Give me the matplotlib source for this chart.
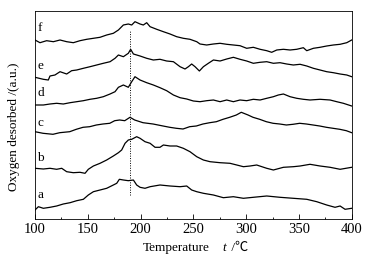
import matplotlib
matplotlib.use("Agg")
import matplotlib.pyplot as plt

# curve data (temperature in C, signal in a.u.)
t_f = [100, 104.7, 111, 117.4, 123.7, 130, 136.3, 142.6, 149, 155.3, 161.6, 167.9, 174.2, 179,
       183.7, 188.4, 191.6, 194.7, 199.5, 202.6, 205.8, 209, 215.3, 221.6, 227.9, 234.2, 240.5,
       246.8, 253.2, 256.3, 262.6, 269, 275.3, 281.6, 287.9, 294.2, 300.5, 306.8, 313.2, 319.5,
       324.2, 329, 335.3, 341.6, 347.9, 354.2, 357.4, 363.7, 370, 376.3, 382.6, 389, 395.3, 400]
y_f = [179, 176.3, 178.3, 177.3, 179, 177.3, 176.3, 178.3, 179.7, 180.7, 181.7, 184, 185.7, 189,
       194, 195, 194, 197.3, 195, 194, 196.3, 192.3, 189.7, 187.3, 185, 182.3, 180.7,
       179.7, 177.3, 175, 174, 175, 175.7, 174.7, 174, 173.3, 170.7, 171.7, 169.7, 168.3,
       166.7, 169, 169.7, 169, 169.7, 171.3, 168.3, 170.7, 171.7, 173, 174, 174.7, 176.3, 179]

t_e = [100, 107.9, 112.6, 114.2, 118.9, 123.7, 130, 134.7, 139.5, 145.8, 152.1, 158.4, 164.7,
       171.1, 175.8, 179, 183.7, 188.4, 190.6, 193.2, 199.5, 205.8, 212.1, 218.4, 224.7, 231.1,
       237.4, 242.1, 245.3, 248.4, 251.6, 255.7, 259.5, 264.2, 269, 275.3, 281.6, 287.9, 294.2,
       300.5, 306.8, 313.2, 319.5, 325.8, 332.1, 338.4, 344.7, 351.1, 357.4, 363.7, 370, 376.3,
       382.6, 389, 395.3, 400]
y_e = [141.7, 139.7, 139, 143, 144, 147.3, 145, 148.3, 149, 150.7, 152.3, 154, 155.7,
       157.3, 160.7, 164, 162.3, 165.7, 169.7, 165, 163, 160.7, 159, 159.7, 158, 157.3,
       152.3, 150, 152.3, 155, 152.3, 148, 152.3, 155.7, 159, 158, 160, 161.7, 159.7,
       158, 155.7, 156.7, 157.3, 155.7, 156.3, 155, 154, 154.7, 153, 150.7, 149, 147.3,
       146.3, 145, 144, 142.3]

t_d = [100, 107.9, 114.2, 120.5, 126.8, 133.2, 139.5, 145.8, 152.1, 158.4, 164.7, 171.1, 175.8,
       179, 183.7, 188.4, 191.6, 194.7, 199.5, 205.8, 212.1, 218.4, 224.7, 231.1, 237.4, 243.7,
       250, 256.3, 262.6, 269, 275.3, 281.6, 287.9, 294.2, 300.5, 306.8, 313.2, 319.5, 325.8,
       330.5, 335.3, 341.6, 347.9, 354.2, 360.5, 370, 379.5, 385.8, 392.1, 400]
y_d = [114, 114, 115, 115.7, 115, 116.3, 117.3, 118.3, 119.7, 120.7, 122.3, 125, 127.3,
       131.7, 134, 131.7, 137.3, 142.3, 139, 136.3, 134, 131.3, 128.3, 124, 121.3, 120,
       118, 117.3, 118.3, 119, 117.3, 119, 117.3, 119, 118.3, 119.7, 119, 120.7, 122.3,
       124, 125, 122.3, 120.7, 119.7, 119, 119.7, 119, 117.3, 115.7, 113]

t_c = [100, 107.6, 117, 123.4, 132.9, 139.1, 145.5, 151.8, 158.1, 164.4, 170.8, 175.5, 180.2,
       185, 190, 194.4, 202.3, 211.8, 221.3, 227.6, 233.9, 240.2, 246.5, 252.8, 259.1, 265.5,
       271.8, 278.1, 284.4, 290.7, 295.4, 301.8, 306.5, 312.8, 319.1, 325.5, 331.8, 338.1,
       344.4, 350.7, 357, 363.4, 369.7, 376, 382.3, 388.7, 394.9, 400]
y_c = [87.3, 85.7, 84.7, 86.3, 87.3, 89.7, 91.7, 92.3, 94, 95, 95.7, 98.3, 99,
       98.3, 101.7, 99, 96.3, 95, 93, 91.7, 90.7, 90, 92.3, 93, 95, 96.3,
       97.3, 99.7, 101.7, 104, 106.7, 104, 101.7, 99.7, 97.3, 95.7, 95, 94,
       94.7, 95.7, 95, 94, 93, 91.7, 90.7, 89.7, 88.3, 86.3]

t_b = [100, 107.9, 114.2, 120.5, 125.3, 130, 136.3, 142.6, 147.4, 150.5, 155.3, 161.6, 167.9,
       174.2, 179, 182.1, 185.3, 188.4, 191.6, 196.3, 199.5, 204.2, 209, 213.7, 218.4, 221.6,
       227.9, 234.2, 240.5, 246.8, 253.2, 259.5, 265.8, 275.3, 284.7, 291.1, 297.4, 303.7, 310,
       319.5, 325.8, 335.3, 344.7, 351.1, 360.5, 370, 379.5, 389, 400]
y_b = [50.7, 50, 50.7, 49.7, 50.7, 47.3, 46.3, 46.7, 45.7, 49.7, 53, 55.7, 59,
       63, 66.3, 69, 75.7, 79, 79.7, 82.3, 80.7, 77.3, 75.7, 71.7, 71.7, 74,
       73, 73, 70.7, 67.3, 62.3, 59, 57.3, 56.3, 55.7, 54, 52.3, 53, 54,
       50.7, 49, 51.7, 52.3, 53, 54.7, 53, 51.7, 49.7, 51.7]

t_a = [100, 103.2, 107.9, 114.2, 120.5, 126.8, 133.2, 139.5, 145.8, 150.5, 155.3, 161.6, 167.9,
       174.2, 177.4, 179.9, 183.7, 188.4, 193.2, 196.3, 199.5, 204.2, 209, 218.4, 227.9, 237.4,
       243.7, 248.4, 253.2, 259.5, 269, 278.4, 287.9, 297.4, 306.8, 319.5, 332.1, 344.7, 357.4,
       366.9, 376.3, 384.2, 389, 393.7, 400]
y_a = [9, 12.3, 10.7, 11.7, 13, 15, 16.3, 18.3, 19.7, 24, 27.3, 29, 30.7,
       34, 35.7, 39.7, 39, 38.3, 39, 34, 31.7, 30.7, 32.3, 34, 33, 32.3,
       33, 29, 27.3, 25.7, 24, 21.3, 22.3, 20.7, 21.7, 23, 21.7, 20.7, 19.7,
       17.3, 14, 11.7, 13, 9.7, 10.7]

names = ["a", "b", "c", "d", "e", "f"]
label_y = [24, 61, 96, 126, 153, 191]

plt.rcParams['font.family'] = ['Liberation Serif', 'Noto Sans CJK SC']
plt.rcParams['font.size'] = 9

fig = plt.figure(figsize=(3.65, 2.60), dpi=100)
ax = fig.add_axes([0.0959, 0.1577, 0.8677, 0.8])

curves = [(t_a, y_a), (t_b, y_b), (t_c, y_c), (t_d, y_d), (t_e, y_e), (t_f, y_f)]
for t, y in curves:
    ax.plot(t, y, color='black', lw=0.9)

for n, ly in zip(names, label_y):
    ax.text(102, ly, n, ha='left', va='center', fontsize=9.5)

ax.plot([190, 190], [24, 189], color='black', lw=0.7, ls=(0, (1, 1.5)))

ax.set_xlim(100, 400)
ax.set_ylim(0, 208)
ax.set_xticks([100, 150, 200, 250, 300, 350, 400])
ax.set_xticks(range(125, 400, 50), minor=True)
ax.set_yticks([])
ax.tick_params(axis='x', which='major', direction='in', length=3.6, width=0.6, pad=3,
               labelsize=10.5)
ax.tick_params(axis='x', which='minor', direction='in', length=1.6, width=0.6)
for s in ax.spines.values():
    s.set_linewidth(0.6)

fig.text(14 / 365, 1 - 127 / 260, 'Oxygen desorbed /(a.u.)', rotation=90,
         ha='center', va='center', fontsize=9.5)
fig.text(176 / 365, 1 - 248 / 260, 'Temperature', ha='center', va='center', fontsize=9.5)
fig.text(224 / 365, 1 - 248 / 260, 't', ha='center', va='center', fontsize=9.5, style='italic')
fig.text(228 / 365, 1 - 248 / 260, ' /℃', ha='left', va='center', fontsize=9.5)

fig.savefig('out.png', dpi=100)
